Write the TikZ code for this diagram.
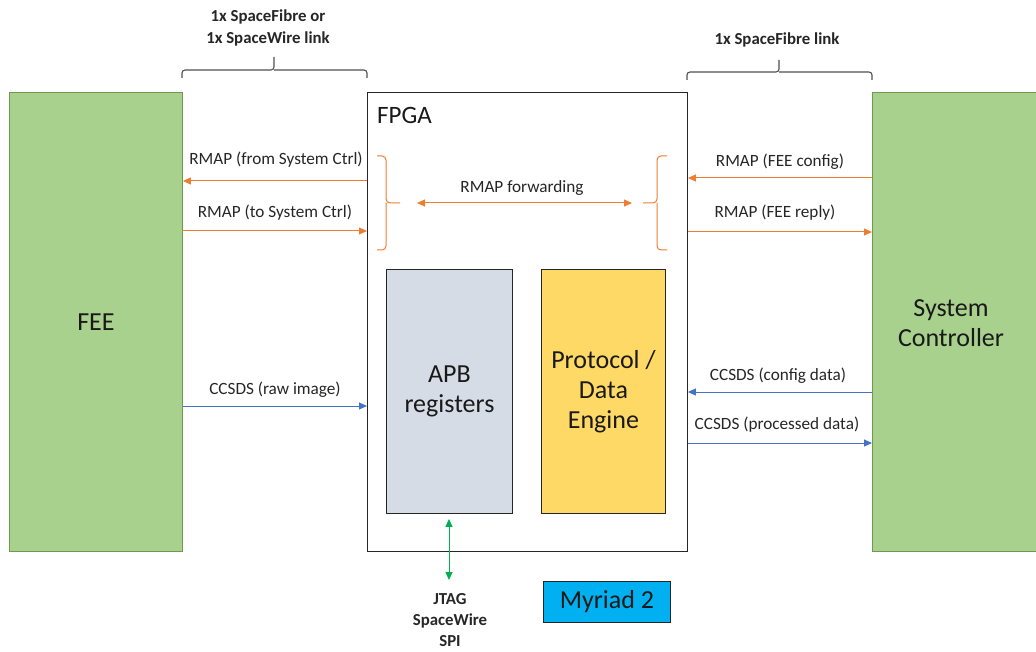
\documentclass[tikz,border=0pt]{standalone}
\usepackage{fontspec}
\setmainfont{Carlito}
\usetikzlibrary{arrows.meta}
\definecolor{boxgreen}{HTML}{A9D18E}
\definecolor{greenedge}{HTML}{6E9A4E}
\definecolor{apbgray}{HTML}{D6DCE5}
\definecolor{engyellow}{HTML}{FFD966}
\definecolor{myrblue}{HTML}{00B0F0}
\definecolor{rmaporange}{HTML}{ED7D31}
\definecolor{ccsdsblue}{HTML}{4472C4}
\definecolor{jtaggreen}{HTML}{00B050}
\definecolor{bracegray}{HTML}{505050}
\tikzset{
  box/.style={draw=#1, line width=0.9pt, inner sep=0pt, anchor=north west},
  lbl/.style={font=\fontsize{17.2}{20}\selectfont, text=black!85, inner sep=0pt},
  big/.style={font=\fontsize{26}{30}\selectfont, align=center, text=black!90},
  blbl/.style={font=\fontsize{16.8}{21.5}\selectfont\bfseries, align=center, text=black!85, inner sep=0pt},
  oarrow/.style={draw=rmaporange, line width=1pt, -{Triangle[length=8pt,width=7pt]}},
  barrow/.style={draw=ccsdsblue, line width=1pt, -{Triangle[length=8pt,width=7pt]}},
  bracestyle/.style={draw=bracegray, line width=1.1pt, rounded corners=3pt},
  obrace/.style={draw=rmaporange, line width=1pt, rounded corners=4pt},
}
\begin{document}
\begin{tikzpicture}[x=1pt,y=-1pt]
\useasboundingbox (0,0) rectangle (1036,652);
% main blocks
\node[box=greenedge, fill=boxgreen, minimum width=173pt, minimum height=459pt] (fee) at (9,92) {};
\node[big] at (fee.center) {FEE};
\fill[boxgreen] (872,92) rectangle (1036,551);
\draw[greenedge, line width=0.9pt] (1040,92) -- (872,92) -- (872,551) -- (1040,551);
\coordinate (sc) at (872,92);
\node[big] (sctext) at (951,323) {System\\Controller};
\node[box=black!85, fill=white, minimum width=320pt, minimum height=459pt] (fpga) at (367,92) {};
\node[font=\fontsize{25}{30}\selectfont, anchor=west, text=black!90, inner sep=0pt] (fpgalbl) at (377,115) {FPGA};
\node[box=black!85, fill=apbgray, minimum width=126pt, minimum height=244pt] (apb) at (386,269) {};
\node[big] at (apb.center) {APB\\registers};
\node[box=black!85, fill=engyellow, minimum width=124pt, minimum height=244pt] (eng) at (541,269) {};
\node[big, align=center] at (eng.center) {Protocol /\\Data\\Engine};
\node[box=black!85, fill=myrblue, minimum width=127pt, minimum height=41pt] (myr) at (543,581) {};
\node[big] at (myr.center) {Myriad 2};
% top braces
\draw[bracestyle] (182,78) -- (182,70) -- (274,70) -- (274,57);
\draw[bracestyle] (274,70) -- (367,70) -- (367,78);
\draw[bracestyle] (687,80) -- (687,72) -- (779,72) -- (779,60);
\draw[bracestyle] (779,72) -- (872,72) -- (872,80);
\node[blbl] (linkL) at (268,28) {1x SpaceFibre or\\1x SpaceWire link};
\node[blbl] (linkR) at (777,40) {1x SpaceFibre link};
% left side arrows
\draw[oarrow] (fpga.west |- 0,181) -- (fee.east |- 0,181);
\node[lbl] at (276,160) {RMAP (from System Ctrl)};
\draw[oarrow] (fee.east |- 0,231) -- (fpga.west |- 0,231);
\node[lbl] at (275,213) {RMAP (to System Ctrl)};
\draw[barrow] (fee.east |- 0,406) -- (fpga.west |- 0,406);
\node[lbl] at (275,390) {CCSDS (raw image)};
% right side arrows
\draw[oarrow] (sc |- 0,178) -- (fpga.east |- 0,178);
\node[lbl] at (780,162) {RMAP (FEE config)};
\draw[oarrow] (fpga.east |- 0,232) -- (sc |- 0,232);
\node[lbl] at (775,213) {RMAP (FEE reply)};
\draw[barrow] (sc |- 0,392) -- (fpga.east |- 0,392);
\node[lbl] at (778,376) {CCSDS (config data)};
\draw[barrow] (fpga.east |- 0,443) -- (sc |- 0,443);
\node[lbl] at (777,425) {CCSDS (processed data)};
% inner brackets
\draw[obrace] (377,156) -- (386,156) -- (386,203) -- (400,203);
\draw[obrace] (386,203) -- (386,250) -- (377,250);
\draw[obrace] (667,156) -- (657,156) -- (657,203) -- (643,203);
\draw[obrace] (657,203) -- (657,250) -- (667,250);
\coordinate (fwdL) at (417,203);
\coordinate (fwdR) at (632,203);
\draw[draw=rmaporange, line width=1pt, {Triangle[length=8pt,width=7pt]}-{Triangle[length=8pt,width=7pt]}] (fwdL) -- (fwdR);
\node[lbl] at (522,188) {RMAP forwarding};
% JTAG arrow
\node[blbl, font=\fontsize{16.8}{21}\selectfont\bfseries] (jtag) at (450,620) {JTAG\\SpaceWire\\SPI};
\coordinate (jtagtop) at (449,580);
\draw[draw=jtaggreen, line width=1pt, {Triangle[length=8pt,width=7pt]}-{Triangle[length=8pt,width=7pt]}] (apb.south -| jtagtop) ++(0,5) -- (jtagtop);
\end{tikzpicture}
\end{document}
